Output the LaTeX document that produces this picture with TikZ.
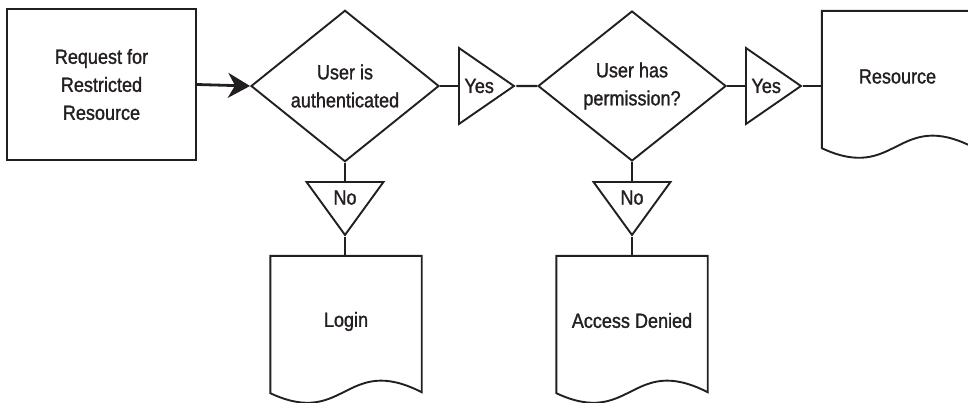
\documentclass[tikz,border=0pt]{standalone}
\usepackage{fontspec}
\setmainfont{Liberation Sans}[FakeStretch=0.88, FakeBold=1.3]
\usetikzlibrary{shapes.geometric,arrows.meta,calc}
\definecolor{ink}{HTML}{231F20}
\begin{document}
\begin{tikzpicture}[x=1pt,y=-1pt,
  every node/.style={font=\fontsize{20.5pt}{28pt}\selectfont, text=ink, inner sep=0pt},
  shapeline/.style={draw=ink, line width=1.9pt},
  boxnode/.style={shapeline, rectangle, minimum width=189pt, minimum height=151pt, align=center},
  decision/.style={shapeline, diamond, minimum width=188pt, minimum height=150pt, align=center},
  yestri/.style={shapeline, isosceles triangle, isosceles triangle stretches, minimum height=55pt, minimum width=76pt, anchor=west},
  notri/.style={shapeline, isosceles triangle, isosceles triangle stretches, shape border rotate=270, minimum height=53pt, minimum width=77pt, anchor=north},
  docnode/.style={rectangle, minimum width=151pt, minimum height=137pt},
  conn/.style={draw=ink, line width=2.3pt},
  arrowline/.style={draw=ink, line width=2.8pt, -{Stealth[length=22pt, width=25pt, inset=7pt]}}
]
\clip (0,0) rectangle (968,402);

\node[boxnode] (req) at (101.5,84.5) {Request for\\Restricted\\Resource};
\node[decision] (d1) at (345,86) {User is\\authenticated};
\node[decision] (d2) at (632,86) {User has\\permission?};
\node[yestri] (yes1) at (458,86) {Yes};
\node[yestri] (yes2) at (745,86) {Yes};
\node[notri] (no1) at (345,181) {No};
\node[notri] (no2) at (632,181) {No};

\node[docnode, label={[yshift=3pt]center:Login}] (login) at (346,324.5) {};
\node[docnode, label={[yshift=4pt]center:Access Denied}] (denied) at (632,324.5) {};
\node[docnode, label={[yshift=3pt]center:Resource}] (res) at (897.5,79.5) {};

\foreach \d in {login,denied,res}{
  \draw[shapeline, line join=miter]
    (\d.south west) -- (\d.north west) -- (\d.north east) -- ($(\d.south east)+(0,-1)$)
    .. controls ($(\d.south west)+(75,-40)$) and ($(\d.south west)+(75,35)$) .. (\d.south west) -- cycle;
}

\draw[arrowline] (req.east) -- (d1.west);
\draw[conn] (d1.east) -- (yes1.west);
\draw[conn] (yes1.east) -- (d2.west);
\draw[conn] (d2.east) -- (yes2.west);
\draw[conn] (yes2.east) -- (yes2.east -| res.west);
\draw[conn] (d1.south) -- (no1.north);
\draw[conn] (no1.south) -- (no1.south |- login.north);
\draw[conn] (d2.south) -- (no2.north);
\draw[conn] (no2.south) -- (no2.south |- denied.north);
\end{tikzpicture}
\end{document}
